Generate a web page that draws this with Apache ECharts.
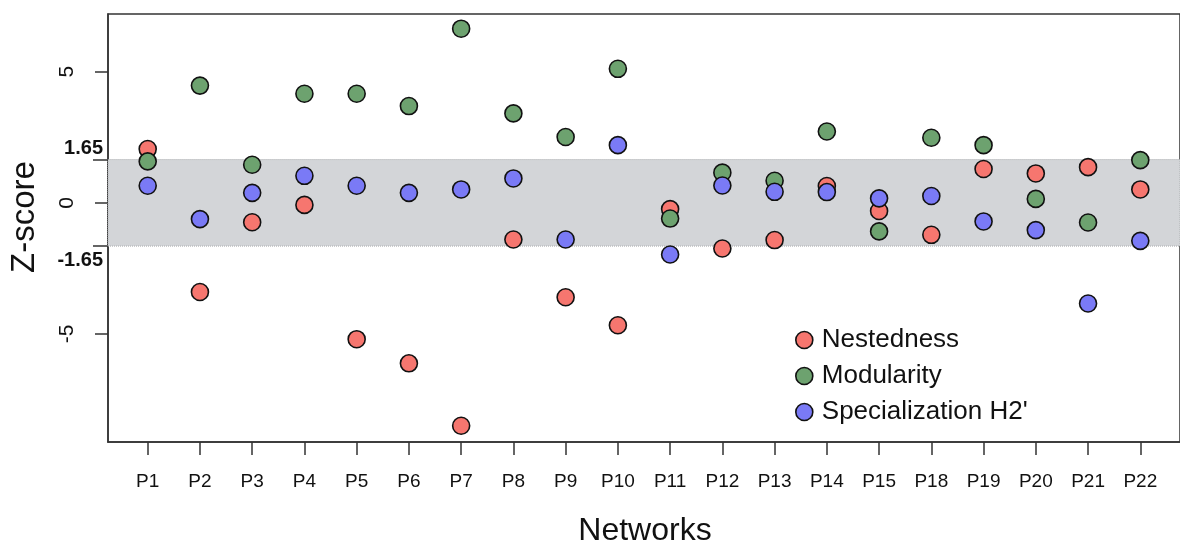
<!DOCTYPE html>
<html>
<head>
<meta charset="utf-8">
<script src="https://cdn.jsdelivr.net/npm/echarts@6/dist/echarts.min.js"></script>
<style>
  html, body { margin: 0; padding: 0; background: #fff; }
  #chart { width: 1180px; height: 545px; }
</style>
</head>
<body>
<div id="chart"></div>
<script>
// Networks on the x axis (P16 and P17 are absent)
const networks = ['P1', 'P2', 'P3', 'P4', 'P5', 'P6', 'P7', 'P8', 'P9', 'P10',
  'P11', 'P12', 'P13', 'P14', 'P15', 'P18', 'P19', 'P20', 'P21', 'P22'];

// Z-scores per network
const nestedness = [2.05, -3.40, -0.74, -0.08, -5.20, -6.12, -8.50, -1.40, -3.60, -4.67,
  -0.24, -1.74, -1.42, 0.64, -0.31, -1.22, 1.29, 1.12, 1.36, 0.51];
const modularity = [1.58, 4.47, 1.45, 4.16, 4.16, 3.69, 6.64, 3.41, 2.51, 5.11,
  -0.60, 1.15, 0.84, 2.72, -1.09, 2.48, 2.20, 0.15, -0.75, 1.63];
const specialization = [0.65, -0.62, 0.38, 1.03, 0.65, 0.38, 0.51, 0.93, -1.40, 2.20,
  -1.97, 0.66, 0.42, 0.41, 0.17, 0.26, -0.71, -1.04, -3.84, -1.45];

// Significance threshold (|z| > 1.65) and regular y ticks
const threshold = 1.65;
const yTicks = [-5, 0, 5];

const positions = networks.map((_, i) => i + 1);
const toPoints = vals => vals.map((v, i) => [positions[i], v]);

const FONT = '"Liberation Sans", Arial, Helvetica, sans-serif';
const AXIS = '#333333';

const chart = echarts.init(document.getElementById('chart'));

function scatter(name, vals, color) {
  return {
    name: name,
    type: 'scatter',
    data: toPoints(vals),
    symbol: 'circle',
    symbolSize: 17,
    itemStyle: { color: color, borderColor: '#111', borderWidth: 1.6, opacity: 1 },
    emphasis: { disabled: true },
    z: 3
  };
}

chart.setOption({
  animation: false,
  grid: {
    left: 108, right: 0, top: 14, bottom: 103,
    show: true, borderColor: AXIS, borderWidth: 1.5, backgroundColor: 'transparent'
  },
  xAxis: {
    type: 'value',
    min: 0.24, max: 20.76,
    splitLine: { show: false },
    axisLine: { show: true, onZero: false, lineStyle: { color: AXIS, width: 1.5 } },
    axisTick: { show: true, length: 13, customValues: positions, lineStyle: { color: AXIS, width: 1.5 } },
    axisLabel: {
      customValues: positions,
      formatter: v => networks[Math.round(v) - 1] || '',
      margin: 30, fontSize: 19, color: '#111', fontFamily: FONT
    }
  },
  yAxis: [{
    type: 'value',
    min: -9.12, max: 7.2,
    splitLine: { show: false },
    axisLine: { show: true, onZero: false, lineStyle: { color: AXIS, width: 1.5 } },
    axisTick: { show: true, length: 13, customValues: yTicks, lineStyle: { color: AXIS, width: 1.5 } },
    axisLabel: {
      customValues: yTicks, rotate: 90, margin: 30,
      fontSize: 21, color: '#111', fontFamily: FONT
    }
  }, {
    type: 'value',
    position: 'left',
    min: -9.12, max: 7.2,
    splitLine: { show: false },
    axisLine: { show: false },
    axisTick: { show: true, length: 15, customValues: [-threshold, threshold], lineStyle: { color: AXIS, width: 1.5 } },
    axisLabel: {
      customValues: [-threshold, threshold],
      margin: 5,
      formatter: v => v > 0 ? '{up|' + threshold.toFixed(2) + '}' : '{down|-' + threshold.toFixed(2) + '}',
      rich: {
        up: { fontSize: 20, fontWeight: 'bold', color: '#111', fontFamily: FONT, padding: [0, 0, 22, 0] },
        down: { fontSize: 20, fontWeight: 'bold', color: '#111', fontFamily: FONT, padding: [28, 0, 0, 0] }
      }
    }
  }],
  legend: {
    orient: 'vertical',
    left: 790, top: 322,
    itemWidth: 17, itemHeight: 17, itemGap: 10,
    icon: 'circle',
    selectedMode: false,
    itemStyle: { borderColor: '#111', borderWidth: 1.6 },
    textStyle: { fontSize: 26, color: '#111', fontFamily: FONT, padding: [0, 0, 0, 4] },
    data: ['Nestedness', 'Modularity', "Specialization H2'"]
  },
  graphic: [{
    type: 'text',
    x: 25, y: 217,
    rotation: Math.PI / 2,
    style: {
      text: 'Z-score', fill: '#111',
      font: '33px ' + FONT,
      align: 'center', verticalAlign: 'middle'
    }
  }, {
    type: 'text',
    x: 645, y: 531,
    style: {
      text: 'Networks', fill: '#111',
      font: '32px ' + FONT,
      align: 'center', verticalAlign: 'middle'
    }
  }],
  series: [
    Object.assign(scatter('Nestedness', nestedness, '#F6766F'), {
      markArea: {
        silent: true,
        itemStyle: { color: '#D3D5D8', borderColor: '#A9ABAE', borderWidth: 1, borderType: 'dotted' },
        data: [[{ yAxis: -threshold }, { yAxis: threshold }]],
        z: 1
      }
    }),
    scatter('Modularity', modularity, '#6DA26F'),
    scatter("Specialization H2'", specialization, '#7A7AF6')
  ]
});
</script>
</body>
</html>
